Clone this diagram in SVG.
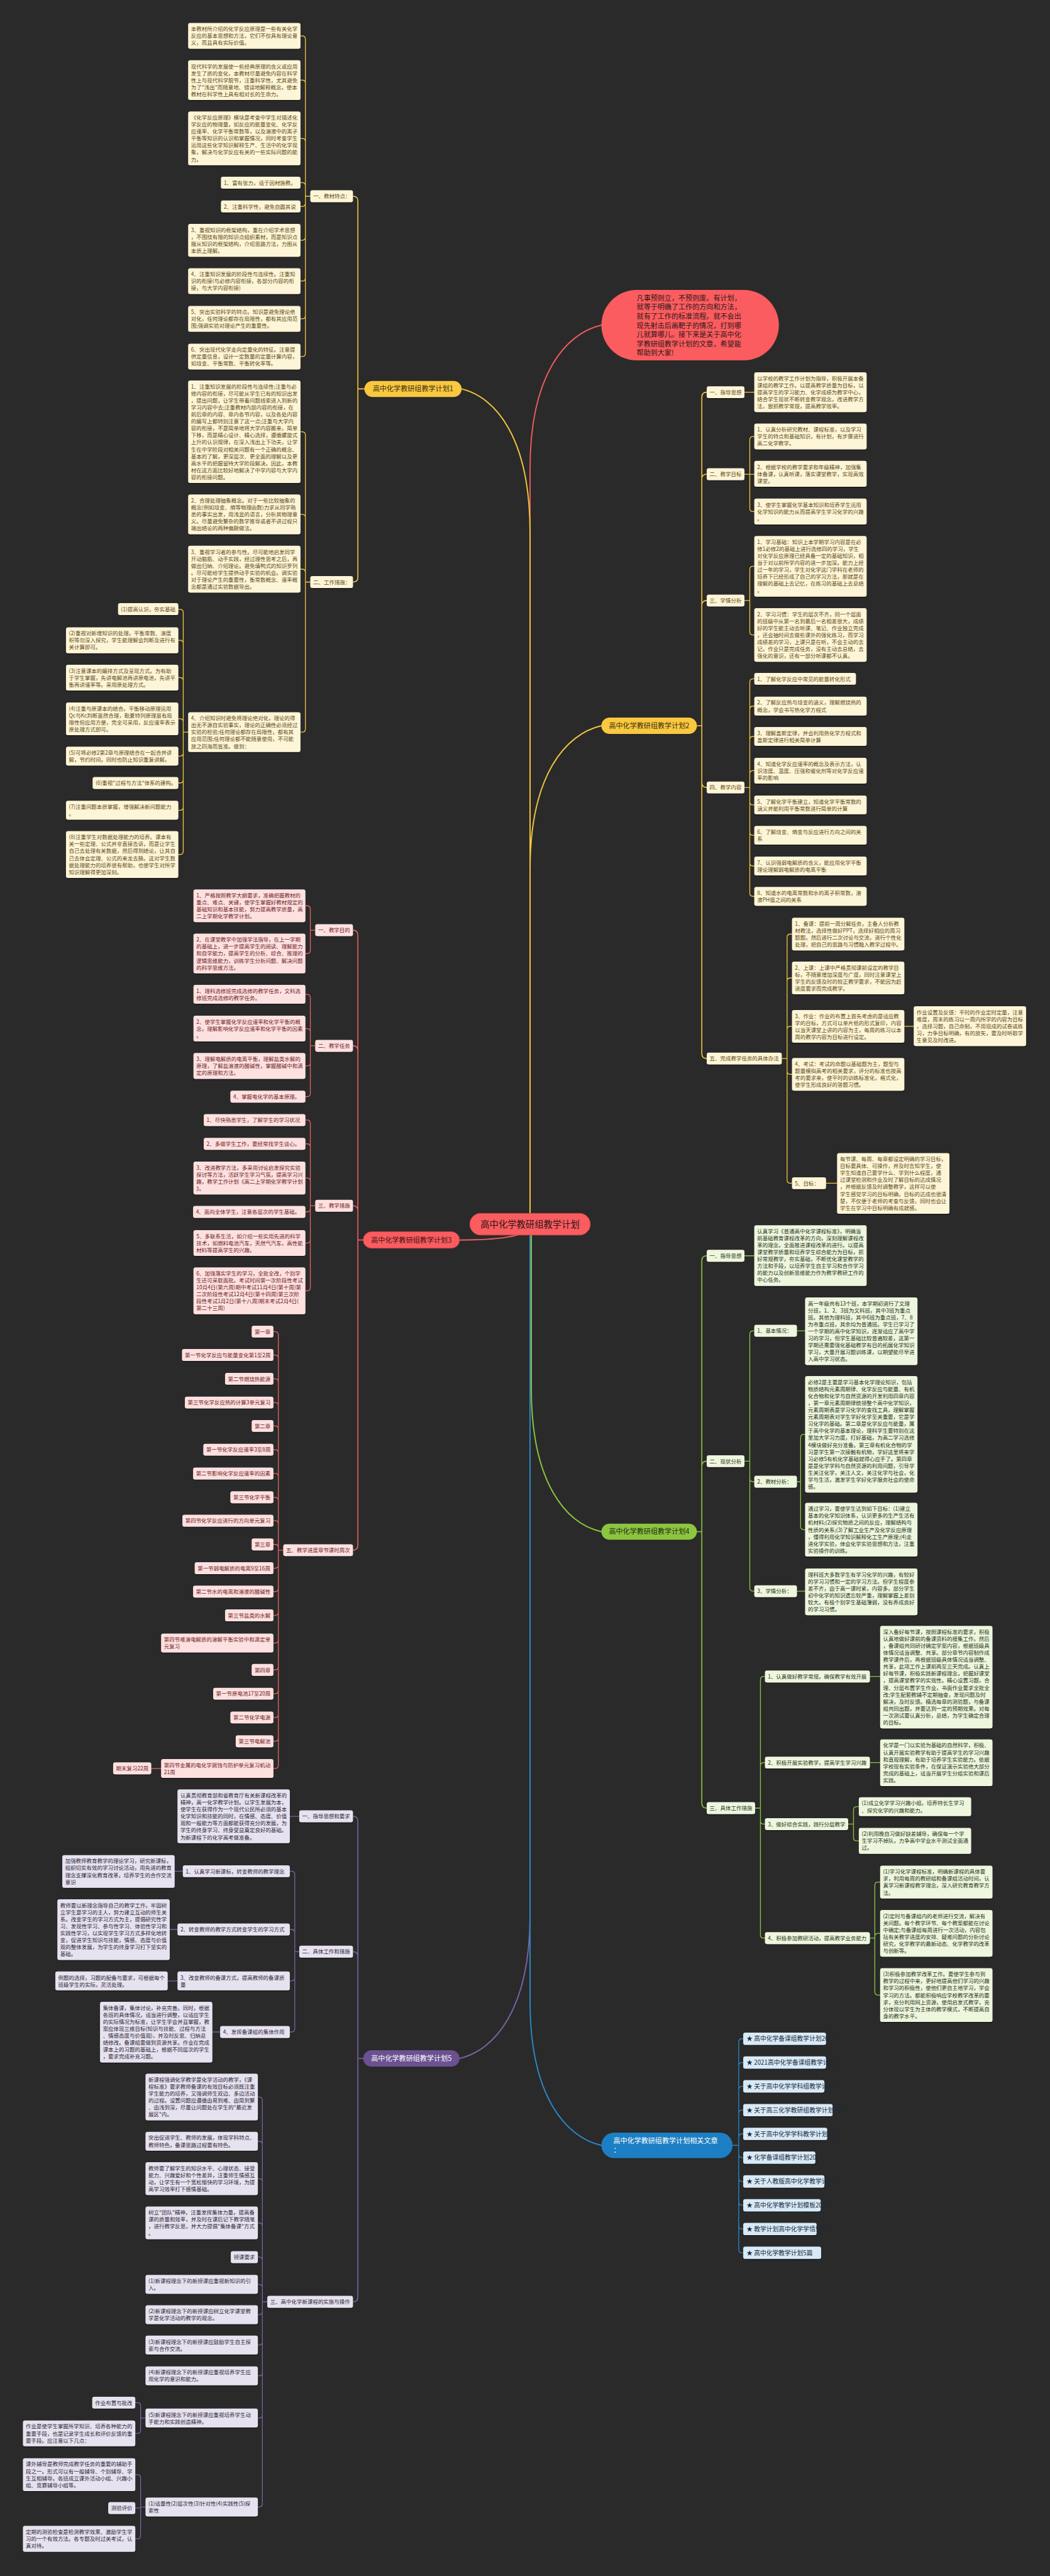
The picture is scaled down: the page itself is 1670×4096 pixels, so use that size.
<svg xmlns="http://www.w3.org/2000/svg" width="1670" height="4096" viewBox="0 0 1670 4096">
<defs>
<filter id="sh" x="-5%" y="-10%" width="110%" height="130%"><feDropShadow dx="0" dy="2" stdDeviation="1.2" flood-color="#000" flood-opacity="0.5"/></filter>
</defs>
<style>
text{font-family:"Noto Sans CJK SC","Noto Sans CJK JP","Noto Sans",sans-serif;font-size:13px}
.ly rect{fill:#fdf5d7}.ly text{fill:#5e4a16}
.lr rect{fill:#fde1e1}.lr text{fill:#6e1b1b}
.lg rect{fill:#eef6de}.lg text{fill:#26331a}
.lp rect{fill:#e7e2ef}.lp text{fill:#2c2636}
.lb rect{fill:#d8eaf7}.lb text{fill:#1c2b3b;font-size:15px}
.bx rect{filter:url(#sh)}
.nt{font-size:17px}
.cn path{fill:none;stroke-linecap:round;stroke-linejoin:round}
.cy path{stroke:#f2c53d;stroke-width:2}
.cr path{stroke:#e9625f;stroke-width:2}
.cg path{stroke:#8cc63f;stroke-width:2}
.cp path{stroke:#7b62a3;stroke-width:2}
.cb path{stroke:#2b87c8;stroke-width:2}
.l1{stroke-width:2.5 !important}
</style>
<rect x="0" y="0" width="1670" height="4096" fill="#2a2a2a"/>
<g transform="scale(0.652)">
<g id="connectors" class="cn">
<path d="M1293,2959V1143C1293,913 1380,813 1467,793" stroke="#ef5a5c" stroke-width="3"/>
<g class="cy">
<path style="stroke-width:3" d="M1293,2959V1298.5C1293,1068.5 1209.5,968.5 1126,948.5M1293,2959V2120C1293,1890 1380,1790 1467,1770"/>
<path class="l1" d="M889,948.5H873M873,948.5V490.5Q873,478.5 861,478.5M873,948.5V1407.5Q873,1419.5 861,1419.5"/>
<path d="M757,478.5H745M745,478.5V95.5Q745,87.5 737,87.5H733M745,478.5V203.5Q745,195.5 737,195.5H733M745,478.5V345.5Q745,337.5 737,337.5H733M745,478.5V453.5Q745,445.5 737,445.5H733M745,478.5V495.5Q745,503.5 737,503.5H733M745,478.5V578Q745,586 737,586H733M745,478.5V677.5Q745,685.5 737,685.5H733M745,478.5V769.5Q745,777.5 737,777.5H733M745,478.5V861.5Q745,869.5 737,869.5H733"/>
<path d="M757,1419.5H745M745,1419.5V1061Q745,1053 737,1053H733M745,1419.5V1262.5Q745,1254.5 737,1254.5H733M745,1419.5V1396Q745,1388 737,1388H733M745,1419.5V1777.5Q745,1785.5 737,1785.5H733"/>
<path d="M459,1785.5H447M447,1785.5V1494Q447,1486 439,1486H435M447,1785.5V1569.5Q447,1561.5 439,1561.5H435M447,1785.5V1660.5Q447,1652.5 439,1652.5H435M447,1785.5V1761Q447,1753 439,1753H435M447,1785.5V1836Q447,1844 439,1844H435M447,1785.5V1901.5Q447,1909.5 439,1909.5H435M447,1785.5V1968Q447,1976 439,1976H435M447,1785.5V2076Q447,2084 439,2084H435"/>
<path class="l1" d="M1700,1770H1712M1712,1770V968.5Q1712,956.5 1724,956.5M1712,1770V1168.5Q1712,1156.5 1724,1156.5M1712,1770V1476.5Q1712,1464.5 1724,1464.5M1712,1770V1908.5Q1712,1920.5 1724,1920.5M1712,1770V2569.5Q1712,2581.5 1724,2581.5"/>
<path d="M1816,956.5H1840M1816,1156.5H1840M1829,1156.5V1072.5Q1829,1064.5 1837,1064.5H1840M1829,1156.5V1239.5Q1829,1247.5 1837,1247.5H1840M1816,1464.5H1829M1829,1464.5V1389Q1829,1381 1837,1381H1840M1829,1464.5V1540.5Q1829,1548.5 1837,1548.5H1840"/>
<path d="M1816,1920.5H1829M1829,1920.5V1663.5Q1829,1655.5 1837,1655.5H1840M1829,1920.5V1730Q1829,1722 1837,1722H1840M1829,1920.5V1804Q1829,1796 1837,1796H1840M1829,1920.5V1887.5Q1829,1879.5 1837,1879.5H1840M1829,1920.5V1955Q1829,1963 1837,1963H1840M1829,1920.5V2029Q1829,2037 1837,2037H1840M1829,1920.5V2104Q1829,2112 1837,2112H1840M1829,1920.5V2178Q1829,2186 1837,2186H1840"/>
<path d="M1907,2581.5H1920M1920,2581.5V2286Q1920,2278 1928,2278H1932M1920,2581.5V2393Q1920,2385 1928,2385H1932M1920,2581.5V2511Q1920,2503 1928,2503H1932M1920,2581.5V2612Q1920,2620 1928,2620H1932M1920,2581.5V2877.5Q1920,2885.5 1928,2885.5H1932M2206,2503H2229M2015,2885.5H2042"/>
</g>
<g class="cr">
<path style="stroke-width:3" d="M1265,3011C1230,3022 1180,3024 1121,3024"/>
<path class="l1" d="M886,3024H873M873,3024V2280.5Q873,2268.5 861,2268.5M873,3024V2562.5Q873,2550.5 861,2550.5M873,3024V2952.5Q873,2940.5 861,2940.5M873,3024V3768.5Q873,3780.5 861,3780.5"/>
<path d="M769,2268.5H757M757,2268.5V2217Q757,2209 749,2209H745M757,2268.5V2317.5Q757,2325.5 749,2325.5H745M769,2550.5H757M757,2550.5V2433Q757,2425 749,2425H745M757,2550.5V2516.5Q757,2508.5 749,2508.5H745M757,2550.5V2591.5Q757,2599.5 749,2599.5H745M757,2550.5V2666.5Q757,2674.5 749,2674.5H745"/>
<path d="M769,2940.5H757M757,2940.5V2739.5Q757,2731.5 749,2731.5H745M757,2940.5V2797.5Q757,2789.5 749,2789.5H745M757,2940.5V2881Q757,2873 749,2873H745M757,2940.5V2947.5Q757,2955.5 749,2955.5H745M757,2940.5V3023.5Q757,3031.5 749,3031.5H745M757,2940.5V3140Q757,3148 749,3148H745"/>
<path d="M691,3780.5H679M679,3780.5V3255.5Q679,3247.5 671,3247.5H667M679,3780.5V3312.5Q679,3304.5 671,3304.5H667M679,3780.5V3370.5Q679,3362.5 671,3362.5H667M679,3780.5V3428.5Q679,3420.5 671,3420.5H667M679,3780.5V3485.5Q679,3477.5 671,3477.5H667M679,3780.5V3543.5Q679,3535.5 671,3535.5H667M679,3780.5V3601.5Q679,3593.5 671,3593.5H667M679,3780.5V3659.5Q679,3651.5 671,3651.5H667M679,3780.5V3716.5Q679,3708.5 671,3708.5H667M679,3780.5V3774.5Q679,3766.5 671,3766.5H667M679,3780.5V3816.5Q679,3824.5 671,3824.5H667M679,3780.5V3873.5Q679,3881.5 671,3881.5H667M679,3780.5V3931.5Q679,3939.5 671,3939.5H667M679,3780.5V3999Q679,4007 671,4007H667M679,3780.5V4064.5Q679,4072.5 671,4072.5H667M679,3780.5V4122.5Q679,4130.5 671,4130.5H667M679,3780.5V4180.5Q679,4188.5 671,4188.5H667M679,3780.5V4238.5Q679,4246.5 671,4246.5H667M679,3780.5V4305Q679,4313 671,4313H667M393,4313H369"/>
</g>
<g class="cp">
<path style="stroke-width:3" d="M1293,3012V4670C1293,4900 1207,5000 1121,5020"/>
<path class="l1" d="M886,5020H873M873,5020V4441.5Q873,4429.5 861,4429.5M873,5020V4771.5Q873,4759.5 861,4759.5M873,5020V5601.5Q873,5613.5 861,5613.5"/>
<path d="M730,4429.5H707M730,4759.5H719M719,4759.5V4571.5Q719,4563.5 711,4563.5H707M719,4759.5V4713.5Q719,4705.5 711,4705.5H707M719,4759.5V4823Q719,4831 711,4831H707M719,4759.5V4947.5Q719,4955.5 711,4955.5H707M446,4563.5H426M433,4705.5H414M433,4831H409M537,4955.5H518"/>
<path d="M652,5613.5H640M640,5613.5V5122Q640,5114 632,5114H629M640,5613.5V5230Q640,5222 632,5222H629M640,5613.5V5321Q640,5313 632,5313H629M640,5613.5V5429Q640,5421 632,5421H629M640,5613.5V5512.5Q640,5504.5 632,5504.5H629M640,5613.5V5579Q640,5571 632,5571H629M640,5613.5V5637Q640,5645 632,5645H629M640,5613.5V5711Q640,5719 632,5719H629M640,5613.5V5786Q640,5794 632,5794H629M640,5613.5V5889Q640,5897 632,5897H629M640,5613.5V6106Q640,6114 632,6114H629"/>
<path d="M355,5897H343M343,5897V5867.5Q343,5859.5 335,5859.5H330M343,5897V5926.5Q343,5934.5 335,5934.5H330M355,6114H343M343,6114V6043Q343,6035 335,6035H330M343,6114V6116.5H330M343,6114V6183.5Q343,6191.5 335,6191.5H330"/>
</g>
<g class="cb">
<path style="stroke-width:3" d="M1293,3012V4882C1293,5112 1380,5212 1467,5232"/>
<path d="M1787,5232H1802M1802,5232V4980Q1802,4972 1810,4972H1813M1802,5232V5038Q1802,5030 1810,5030H1813M1802,5232V5096Q1802,5088 1810,5088H1813M1802,5232V5154Q1802,5146 1810,5146H1813M1802,5232V5212Q1802,5204 1810,5204H1813M1802,5232V5254Q1802,5262 1810,5262H1813M1802,5232V5312Q1802,5320 1810,5320H1813M1802,5232V5370Q1802,5378 1810,5378H1813M1802,5232V5428Q1802,5436 1810,5436H1813M1802,5232V5486Q1802,5494 1810,5494H1813"/>
</g>
<g class="cg">
<path style="stroke-width:3" d="M1296,3012V3385.5C1296,3615.5 1380,3715.5 1467,3735.5"/>
<path class="l1" d="M1700,3735.5H1712M1712,3735.5V3074.5Q1712,3062.5 1724,3062.5M1712,3735.5V3575.5Q1712,3563.5 1724,3563.5M1712,3735.5V4397.5Q1712,4409.5 1724,4409.5"/>
<path d="M1816,3062.5H1840M1816,3563.5H1829M1829,3563.5V3253.5Q1829,3245.5 1837,3245.5H1840M1829,3563.5V3605.5Q1829,3613.5 1837,3613.5H1840M1829,3563.5V3872.5Q1829,3880.5 1837,3880.5H1840M1944,3245.5H1964M1944,3613.5H1953M1953,3613.5V3506Q1953,3498 1961,3498H1964M1953,3613.5V3722.5Q1953,3730.5 1961,3730.5H1964M1944,3880.5H1964"/>
<path d="M1842,4409.5H1855M1855,4409.5V4096.5Q1855,4088.5 1863,4088.5H1866M1855,4409.5V4306.5Q1855,4298.5 1863,4298.5H1866M1855,4409.5V4440.5Q1855,4448.5 1863,4448.5H1866M1855,4409.5V4718.5Q1855,4726.5 1863,4726.5H1866M2122,4088.5H2147M2122,4298.5H2147"/>
<path d="M2069,4448.5H2082M2082,4448.5V4414Q2082,4406 2090,4406H2095M2082,4448.5V4481.5Q2082,4489.5 2090,4489.5H2095M2122,4726.5H2134M2134,4726.5V4598Q2134,4590 2142,4590H2147M2134,4726.5V4723Q2134,4715 2142,4715H2147M2134,4726.5V4857.5Q2134,4865.5 2142,4865.5H2147"/>
</g>
</g>

<g id="center"><rect x="1146" y="2959" width="294" height="53" rx="26.5" fill="#fb5c5f" stroke="#c9484b" stroke-width="1.5"/><text x="1293" y="2993.5" text-anchor="middle" style="font-size:22px" fill="#2a1616">高中化学教研组教学计划</text></g>

<g id="intro"><rect x="1467" y="707" width="433" height="172" rx="86" fill="#fb5c5f"/><text x="1553" y="733" class="nt" fill="#2e1818">凡事预则立，不预则废。有计划，<tspan x="1553" dy="22.3">就等于明确了工作的方向和方法，</tspan><tspan x="1553" dy="22.3">就有了工作的标准流程。就不会出</tspan><tspan x="1553" dy="22.3">现先射击后画靶子的情况，打到哪</tspan><tspan x="1553" dy="22.3">儿就算哪儿。接下来是关于高中化</tspan><tspan x="1553" dy="22.3">学教研组教学计划的文章，希望能</tspan><tspan x="1553" dy="22.3">帮助到大家!</tspan></text></g>

<!-- PLAN 1 -->
<g id="plan1"><rect x="889" y="929" width="237" height="39" rx="19.5" fill="#f9c83f"/><text x="1007.5" y="954.5" class="nt" text-anchor="middle" fill="#3a2f10">高中化学教研组教学计划1</text></g>
<g id="p1-1" class="ly bx"><rect x="757" y="464" width="104" height="29" rx="5"/><text x="764" y="483.5">一、教材特点：</text></g>
<g id="p1-2" class="ly bx"><rect x="757" y="1405" width="104" height="29" rx="5"/><text x="764" y="1424.5">二、工作措施：</text></g>
<g id="p1-1a" class="ly bx"><rect x="459" y="56" width="274" height="63" rx="5"/><text x="466" y="75.5">本教材所介绍的化学反应原理是一些有关化学<tspan x="466" dy="17">反应的基本思想和方法，它们不仅具有理论意</tspan><tspan x="466" dy="17">义，而且具有实际价值。</tspan></text></g>
<g id="p1-1b" class="ly bx"><rect x="459" y="147" width="274" height="97" rx="5"/><text x="466" y="166.5">现代科学的发展使一些经典原理的含义或应用<tspan x="466" dy="17">发生了质的变化，本教材尽量避免内容在科学</tspan><tspan x="466" dy="17">性上与现代科学脱节，注重科学性，尤其避免</tspan><tspan x="466" dy="17">为了"浅出"而随意地、错误地解释概念，使本</tspan><tspan x="466" dy="17">教材在科学性上具有相对长的生命力。</tspan></text></g>
<g id="p1-1c" class="ly bx"><rect x="459" y="272" width="274" height="131" rx="5"/><text x="466" y="291.5">《化学反应原理》模块是考查中学生对描述化<tspan x="466" dy="17">学反应的物理量，如反应的能量变化、化学反</tspan><tspan x="466" dy="17">应速率、化学平衡常数等，以及溶液中的离子</tspan><tspan x="466" dy="17">平衡等知识的认识和掌握情况，同时考查学生</tspan><tspan x="466" dy="17">运用这些化学知识解释生产、生活中的化学现</tspan><tspan x="466" dy="17">象，解决与化学反应有关的一些实际问题的能</tspan><tspan x="466" dy="17">力。</tspan></text></g>
<g id="p1-1d" class="ly bx"><rect x="539" y="431" width="194" height="29" rx="5"/><text x="546" y="450.5">1、富有张力，适于因材施教。</text></g>
<g id="p1-1e" class="ly bx"><rect x="539" y="489" width="194" height="29" rx="5"/><text x="546" y="508.5">2、注重科学性，避免自圆其说</text></g>
<g id="p1-1f" class="ly bx"><rect x="459" y="546" width="274" height="80" rx="5"/><text x="466" y="565.5">3、重视知识的框架结构，重在介绍学术思想<tspan x="466" dy="17">，不围绕有限的知识点组织素材，而是知识点</tspan><tspan x="466" dy="17">服从知识的框架结构，介绍思路方法，力图从</tspan><tspan x="466" dy="17">本质上理解。</tspan></text></g>
<g id="p1-1g" class="ly bx"><rect x="459" y="654" width="274" height="63" rx="5"/><text x="466" y="673.5">4、注重知识发展的阶段性与连续性。注重知<tspan x="466" dy="17">识的衔接(与必修内容衔接，各部分内容的衔</tspan><tspan x="466" dy="17">接，与大学内容衔接)</tspan></text></g>
<g id="p1-1h" class="ly bx"><rect x="459" y="746" width="274" height="63" rx="5"/><text x="466" y="765.5">5、突出实验科学的特点。知识是避免理论绝<tspan x="466" dy="17">对化，任何理论都存在局限性，都有其应用范</tspan><tspan x="466" dy="17">围;强调实验对理论产生的重要性。</tspan></text></g>
<g id="p1-1i" class="ly bx"><rect x="459" y="838" width="274" height="63" rx="5"/><text x="466" y="857.5">6、突出现代化学走向定量化的特征。注意提<tspan x="466" dy="17">供定量信息，设计一定数量的定量计算内容，</tspan><tspan x="466" dy="17">如焓变、平衡常数、平衡转化率等。</tspan></text></g>
<g id="p1-2a" class="ly bx"><rect x="459" y="928" width="274" height="250" rx="5"/><text x="466" y="947.5">1、注重知识发展的阶段性与连续性;注重与必<tspan x="466" dy="17">修内容的衔接，尽可能从学生已有的知识出发</tspan><tspan x="466" dy="17">，提出问题，让学生带着问题线索进入到新的</tspan><tspan x="466" dy="17">学习内容中去;注重教材内部内容的衔接，在</tspan><tspan x="466" dy="17">前后章的内容、章内各节内容，以及各处内容</tspan><tspan x="466" dy="17">的编写上都特别注意了这一点;注重与大学内</tspan><tspan x="466" dy="17">容的衔接，不是简单地将大学内容搬来，简单</tspan><tspan x="466" dy="17">下移，而是精心设计、精心选择，遵循螺旋式</tspan><tspan x="466" dy="17">上升的认识规律，在深入浅出上下功夫，让学</tspan><tspan x="466" dy="17">生在中学阶段对相关问题有一个正确的概念、</tspan><tspan x="466" dy="17">基本的了解，更深层次、更全面的理解以及更</tspan><tspan x="466" dy="17">高水平的把握留待大学阶段解决。因此，本教</tspan><tspan x="466" dy="17">材在这方面比较好地解决了中学内容与大学内</tspan><tspan x="466" dy="17">容的衔接问题。</tspan></text></g>
<g id="p1-2b" class="ly bx"><rect x="459" y="1206" width="274" height="97" rx="5"/><text x="466" y="1225.5">2、合理处理抽象概念。对于一些比较抽象的<tspan x="466" dy="17">概念(例如焓变、熵等物理函数)力求从同学熟</tspan><tspan x="466" dy="17">悉的事实出发，用浅显的语言，分析其物理意</tspan><tspan x="466" dy="17">义。尽量避免繁杂的数学推导或者不讲过程只</tspan><tspan x="466" dy="17">端出结论的两种偏颇做法。</tspan></text></g>
<g id="p1-2c" class="ly bx"><rect x="459" y="1331" width="274" height="114" rx="5"/><text x="466" y="1350.5">3、重视学习者的参与性。尽可能地启发同学<tspan x="466" dy="17">开动脑筋、动手实践，经过理性思考之后，再</tspan><tspan x="466" dy="17">做出归纳、介绍理论。避免填鸭式的知识罗列</tspan><tspan x="466" dy="17">。尽可能给学生提供动手实验的机会。调实验</tspan><tspan x="466" dy="17">对于理论产生的重要性，衡常数概念、速率概</tspan><tspan x="466" dy="17">念都是通过实验数据导出。</tspan></text></g>
<g id="p1-2d" class="ly bx"><rect x="459" y="1737" width="274" height="97" rx="5"/><text x="466" y="1756.5">4、介绍知识时避免将理论绝对化，理论的得<tspan x="466" dy="17">出无不源自实验事实，理论的正确性必须经过</tspan><tspan x="466" dy="17">实验的检验;任何理论都存在局限性，都有其</tspan><tspan x="466" dy="17">应用范围;任何理论都不能随意使用，不可能</tspan><tspan x="466" dy="17">放之四海而皆准。做到：</tspan></text></g>
<g id="p1-2d1" class="ly bx"><rect x="288" y="1471" width="147" height="29" rx="5"/><text x="295" y="1490.5">(1)提高认识，夯实基础</text></g>
<g id="p1-2d2" class="ly bx"><rect x="161" y="1530" width="274" height="63" rx="5"/><text x="168" y="1549.5">(2)重视对新增知识的处理。平衡常数、溶度<tspan x="168" dy="17">积等勿深入探究，学生能理解会判断及进行有</tspan><tspan x="168" dy="17">关计算即可。</tspan></text></g>
<g id="p1-2d3" class="ly bx"><rect x="161" y="1621" width="274" height="63" rx="5"/><text x="168" y="1640.5">(3)注意课本的编排方式及呈现方式。为有助<tspan x="168" dy="17">于学生掌握，先讲电解池再讲原电池，先讲平</tspan><tspan x="168" dy="17">衡再讲速率等。采用原处理方式。</tspan></text></g>
<g id="p1-2d4" class="ly bx"><rect x="161" y="1713" width="274" height="80" rx="5"/><text x="168" y="1732.5">(4)注重与原课本的结合。平衡移动原理运用<tspan x="168" dy="17">Qc与Kc判断虽然合理，勒夏特列原理虽有局</tspan><tspan x="168" dy="17">限性但应用方便，完全可采用，反应速率表示</tspan><tspan x="168" dy="17">原处理方式即可。</tspan></text></g>
<g id="p1-2d5" class="ly bx"><rect x="161" y="1821" width="274" height="46" rx="5"/><text x="168" y="1840.5">(5)可将必修2第2章与原理结合在一起合并讲<tspan x="168" dy="17">解，节约时间，同时也防止知识重复讲解。</tspan></text></g>
<g id="p1-2d6" class="ly bx"><rect x="226" y="1895" width="209" height="29" rx="5"/><text x="233" y="1914.5">(6)重视"过程与方法"体系的建构。</text></g>
<g id="p1-2d7" class="ly bx"><rect x="161" y="1953" width="274" height="46" rx="5"/><text x="168" y="1972.5">(7)注重问题本质掌握，增强解决新问题能力<tspan x="168" dy="17">。</tspan></text></g>
<g id="p1-2d8" class="ly bx"><rect x="161" y="2027" width="274" height="114" rx="5"/><text x="168" y="2046.5">(8)注重学生对数据处理能力的培养。课本有<tspan x="168" dy="17">关一些定理、公式并非直接告诉，而是让学生</tspan><tspan x="168" dy="17">自己去处理有关数据，然后得到结论，让其自</tspan><tspan x="168" dy="17">己去体会定理、公式的来龙去脉。这对学生数</tspan><tspan x="168" dy="17">据处理能力的培养很有帮助，也使学生对所学</tspan><tspan x="168" dy="17">知识理解得更加深刻。</tspan></text></g>

<!-- PLAN 2 -->
<g id="plan2"><rect x="1467" y="1750" width="233" height="40" rx="20" fill="#f9c83f"/><text x="1583.5" y="1776" class="nt" text-anchor="middle" fill="#3a2f10">高中化学教研组教学计划2</text></g>
<g id="p2-1" class="ly bx"><rect x="1724" y="942" width="92" height="29" rx="5"/><text x="1731" y="961.5">一、指导思想</text></g>
<g id="p2-1a" class="ly bx"><rect x="1840" y="908" width="274" height="97" rx="5"/><text x="1847" y="927.5">以学校的教学工作计划为指导，积极开展本备<tspan x="1847" dy="17">课组的教学工作。以提高教学质量为目标，以</tspan><tspan x="1847" dy="17">提高学生的学习能力、化学成绩为教学中心，</tspan><tspan x="1847" dy="17">结合学生现状不断转变教学观念，改进教学方</tspan><tspan x="1847" dy="17">法，狠抓教学常规，提高教学效率。</tspan></text></g>
<g id="p2-2" class="ly bx"><rect x="1724" y="1142" width="92" height="29" rx="5"/><text x="1731" y="1161.5">二、教学目标</text></g>
<g id="p2-2a" class="ly bx"><rect x="1840" y="1033" width="274" height="63" rx="5"/><text x="1847" y="1052.5">1、认真分析研究教材、课程标准，以及学习<tspan x="1847" dy="17">学生的特点和基础知识，有计划，有步骤进行</tspan><tspan x="1847" dy="17">高二化学教学。</tspan></text></g>
<g id="p2-2b" class="ly bx"><rect x="1840" y="1124" width="274" height="63" rx="5"/><text x="1847" y="1143.5">2、根据学校的教学要求和年级精神，加强集<tspan x="1847" dy="17">体备课，认真听课，落实课堂教学，实现高效</tspan><tspan x="1847" dy="17">课堂。</tspan></text></g>
<g id="p2-2c" class="ly bx"><rect x="1840" y="1216" width="274" height="63" rx="5"/><text x="1847" y="1235.5">3、使学生掌握化学基本知识和培养学生运用<tspan x="1847" dy="17">化学知识的能力从而提高学生学习化学的兴趣</tspan><tspan x="1847" dy="17">。</tspan></text></g>
<g id="p2-3" class="ly bx"><rect x="1724" y="1450" width="92" height="29" rx="5"/><text x="1731" y="1469.5">三、学情分析</text></g>
<g id="p2-3a" class="ly bx"><rect x="1840" y="1307" width="274" height="148" rx="5"/><text x="1847" y="1326.5">1、学习基础：知识上本学期学习内容是在必<tspan x="1847" dy="17">修1必修2的基础上进行选修四的学习，学生</tspan><tspan x="1847" dy="17">对化学反应原理已经具备一定的基础知识，相</tspan><tspan x="1847" dy="17">当于对以前所学内容的进一步加深。能力上经</tspan><tspan x="1847" dy="17">过一年的学习，学生对化学这门学科在老师的</tspan><tspan x="1847" dy="17">培养下已经形成了自己的学习方法，那就是在</tspan><tspan x="1847" dy="17">理解的基础上去记忆，在练习的基础上去总结</tspan><tspan x="1847" dy="17">。</tspan></text></g>
<g id="p2-3b" class="ly bx"><rect x="1840" y="1483" width="274" height="131" rx="5"/><text x="1847" y="1502.5">2、学习习惯：学生的层次不齐，同一个层面<tspan x="1847" dy="17">的班级中从第一名到最后一名相差很大，成绩</tspan><tspan x="1847" dy="17">好的学生能主动去听课、笔记、作业独立完成</tspan><tspan x="1847" dy="17">，还会抽时间去做些课外的强化练习，而学习</tspan><tspan x="1847" dy="17">成绩差的学习，上课只是在听，不会主动的去</tspan><tspan x="1847" dy="17">记，作业只是完成任务，没有主动去总结，去</tspan><tspan x="1847" dy="17">强化的意识，还有一部分听课都不认真。</tspan></text></g>
<g id="p2-4" class="ly bx"><rect x="1724" y="1906" width="92" height="29" rx="5"/><text x="1731" y="1925.5">四、教学内容</text></g>
<g id="p2-4a" class="ly bx"><rect x="1840" y="1641" width="248" height="29" rx="5"/><text x="1847" y="1660.5">1、了解化学反应中常见的能量转化形式</text></g>
<g id="p2-4b" class="ly bx"><rect x="1840" y="1699" width="274" height="46" rx="5"/><text x="1847" y="1718.5">2、了解反应热与焓变的涵义，理解燃烧热的<tspan x="1847" dy="17">概念，学会书写热化学方程式</tspan></text></g>
<g id="p2-4c" class="ly bx"><rect x="1840" y="1773" width="274" height="46" rx="5"/><text x="1847" y="1792.5">3、理解盖斯定律，并会利用热化学方程式和<tspan x="1847" dy="17">盖斯定律进行相关简单计算</tspan></text></g>
<g id="p2-4d" class="ly bx"><rect x="1840" y="1848" width="274" height="63" rx="5"/><text x="1847" y="1867.5">4、知道化学反应速率的概念及表示方法，认<tspan x="1847" dy="17">识浓度、温度、压强和催化剂等对化学反应速</tspan><tspan x="1847" dy="17">率的影响</tspan></text></g>
<g id="p2-4e" class="ly bx"><rect x="1840" y="1940" width="274" height="46" rx="5"/><text x="1847" y="1959.5">5、了解化学平衡建立，知道化学平衡常数的<tspan x="1847" dy="17">涵义并能利用平衡常数进行简单的计算</tspan></text></g>
<g id="p2-4f" class="ly bx"><rect x="1840" y="2014" width="274" height="46" rx="5"/><text x="1847" y="2033.5">6、了解焓变、熵变与反应进行方向之间的关<tspan x="1847" dy="17">系</tspan></text></g>
<g id="p2-4g" class="ly bx"><rect x="1840" y="2089" width="274" height="46" rx="5"/><text x="1847" y="2108.5">7、认识强弱电解质的含义，能应用化学平衡<tspan x="1847" dy="17">理论理解弱电解质的电离平衡</tspan></text></g>
<g id="p2-4h" class="ly bx"><rect x="1840" y="2163" width="274" height="46" rx="5"/><text x="1847" y="2182.5">8、知道水的电离常数和水的离子积常数，溶<tspan x="1847" dy="17">液PH值之间的关系</tspan></text></g>
<g id="p2-5" class="ly bx"><rect x="1724" y="2567" width="183" height="29" rx="5"/><text x="1731" y="2586.5">五、完成教学任务的具体办法</text></g>
<g id="p2-5a" class="ly bx"><rect x="1932" y="2238" width="274" height="80" rx="5"/><text x="1939" y="2257.5">1、备课：提前一周分解任务，主备人分析教<tspan x="1939" dy="17">材教法，选择性做好PPT，选择好相应的周习</tspan><tspan x="1939" dy="17">题题。然后进行二次讨论与交流，进行个性化</tspan><tspan x="1939" dy="17">处理，把自己的思路与习惯融入教学过程中。</tspan></text></g>
<g id="p2-5b" class="ly bx"><rect x="1932" y="2345" width="274" height="80" rx="5"/><text x="1939" y="2364.5">2、上课：上课中严格贯彻课前设定的教学目<tspan x="1939" dy="17">标，不随意增加深度与广度，同时注意课堂上</tspan><tspan x="1939" dy="17">学生的反馈及时的较正教学要求，不能因为赶</tspan><tspan x="1939" dy="17">进度要求而完成教学。</tspan></text></g>
<g id="p2-5c" class="ly bx"><rect x="1932" y="2463" width="274" height="80" rx="5"/><text x="1939" y="2482.5">3、作业：作业的布置上首先考虑的是适应教<tspan x="1939" dy="17">学的目标，方式可以单片纸的形式复印，内容</tspan><tspan x="1939" dy="17">以当天课堂上讲的内容为主，每周的练习以本</tspan><tspan x="1939" dy="17">周的教学内容为目标进行设定。</tspan></text></g>
<g id="p2-5c1" class="ly bx"><rect x="2229" y="2454" width="274" height="97" rx="5"/><text x="2236" y="2473.5">作业设置及反馈：平时的作业定时定量，注意<tspan x="2236" dy="17">难度，周末的练习以一周内所学的内容为目标</tspan><tspan x="2236" dy="17">，选择习题，自己命制，不用现成的试卷或练</tspan><tspan x="2236" dy="17">习，力争目标明确，有的放矢，要及时听取学</tspan><tspan x="2236" dy="17">生意见及时改进。</tspan></text></g>
<g id="p2-5d" class="ly bx"><rect x="1932" y="2580" width="274" height="80" rx="5"/><text x="1939" y="2599.5">4、考试：考试的命题以基础题为主，题型与<tspan x="1939" dy="17">题量模拟高考的相关要求，评分的标准也按高</tspan><tspan x="1939" dy="17">考的要求来，使平时的训练标准化，格式化，</tspan><tspan x="1939" dy="17">使学生形成良好的答题习惯。</tspan></text></g>
<g id="p2-5e" class="ly bx"><rect x="1932" y="2871" width="83" height="29" rx="5"/><text x="1939" y="2890.5">5、目标：</text></g>
<g id="p2-5e1" class="ly bx"><rect x="2042" y="2812" width="274" height="148" rx="5"/><text x="2049" y="2831.5">每节课、每周、每章都设定明确的学习目标，<tspan x="2049" dy="17">目标要具体、可操作，并及时告知学生，使</tspan><tspan x="2049" dy="17">学生知道自己要学什么、学到什么程度，通</tspan><tspan x="2049" dy="17">过课堂检测和作业及时了解目标的达成情况</tspan><tspan x="2049" dy="17">，并根据反馈及时调整教学，这样可以使</tspan><tspan x="2049" dy="17">学生感觉学习的目标明确，目标的达成也很清</tspan><tspan x="2049" dy="17">楚，不仅便于老师的考查与反馈，同时也会让</tspan><tspan x="2049" dy="17">学生在学习中目标明确有成就感。</tspan></text></g>

<!-- PLAN 3 -->
<g id="plan3"><rect x="886" y="3004" width="235" height="40" rx="20" fill="#fb5c5f" stroke="#c9484b" stroke-width="1.5"/><text x="1003.5" y="3030" class="nt" text-anchor="middle" fill="#3a1212">高中化学教研组教学计划3</text></g>
<g id="p3-1" class="lr bx"><rect x="769" y="2254" width="92" height="29" rx="5"/><text x="776" y="2273.5">一、教学目的</text></g>
<g id="p3-1a" class="lr bx"><rect x="472" y="2169" width="273" height="80" rx="5"/><text x="479" y="2188.5">1、严格按照教学大纲要求，准确把握教材的<tspan x="479" dy="17">重点、难点、关键，使学生掌握好教材规定的</tspan><tspan x="479" dy="17">基础知识和基本技能，努力提高教学质量，高</tspan><tspan x="479" dy="17">二上学期化学教学计划。</tspan></text></g>
<g id="p3-1b" class="lr bx"><rect x="472" y="2277" width="273" height="97" rx="5"/><text x="479" y="2296.5">2、在课堂教学中加强学法指导，在上一学期<tspan x="479" dy="17">的基础上，进一步提高学生的阅读、理解能力</tspan><tspan x="479" dy="17">和自学能力，提高学生的分析、综合、推理的</tspan><tspan x="479" dy="17">逻辑思维能力，训练学生分析问题、解决问题</tspan><tspan x="479" dy="17">的科学思维方法。</tspan></text></g>
<g id="p3-2" class="lr bx"><rect x="769" y="2536" width="92" height="29" rx="5"/><text x="776" y="2555.5">二、教学任务</text></g>
<g id="p3-2a" class="lr bx"><rect x="472" y="2402" width="273" height="46" rx="5"/><text x="479" y="2421.5">1、理科选修班完成选修的教学任务，文科选<tspan x="479" dy="17">修班完成选修的教学任务。</tspan></text></g>
<g id="p3-2b" class="lr bx"><rect x="472" y="2477" width="273" height="63" rx="5"/><text x="479" y="2496.5">2、使学生掌握化学反应速率和化学平衡的概<tspan x="479" dy="17">念，理解影响化学反应速率和化学平衡的因素</tspan><tspan x="479" dy="17">。</tspan></text></g>
<g id="p3-2c" class="lr bx"><rect x="472" y="2568" width="273" height="63" rx="5"/><text x="479" y="2587.5">3、理解电解质的电离平衡，理解盐类水解的<tspan x="479" dy="17">原理，了解盐溶液的酸碱性，掌握酸碱中和滴</tspan><tspan x="479" dy="17">定的原理和方法。</tspan></text></g>
<g id="p3-2d" class="lr bx"><rect x="562" y="2660" width="183" height="29" rx="5"/><text x="569" y="2679.5">4、掌握电化学的基本原理。</text></g>
<g id="p3-3" class="lr bx"><rect x="769" y="2926" width="92" height="29" rx="5"/><text x="776" y="2945.5">三、教学措施</text></g>
<g id="p3-3a" class="lr bx"><rect x="497" y="2717" width="248" height="29" rx="5"/><text x="504" y="2736.5">1、尽快熟悉学生，了解学生的学习状况</text></g>
<g id="p3-3b" class="lr bx"><rect x="497" y="2775" width="248" height="29" rx="5"/><text x="504" y="2794.5">2、多做学生工作，要经常找学生谈心。</text></g>
<g id="p3-3c" class="lr bx"><rect x="472" y="2833" width="273" height="80" rx="5"/><text x="479" y="2852.5">3、改进教学方法，多采用讨论启发探究实验<tspan x="479" dy="17">探讨等方法，活跃学生学习气氛，提高学习兴</tspan><tspan x="479" dy="17">趣，教学工作计划《高二上学期化学教学计划</tspan><tspan x="479" dy="17">》。</tspan></text></g>
<g id="p3-3d" class="lr bx"><rect x="471" y="2941" width="274" height="29" rx="5"/><text x="478" y="2960.5">4、面向全体学生，注意各层次的学生基础。</text></g>
<g id="p3-3e" class="lr bx"><rect x="472" y="3000" width="273" height="63" rx="5"/><text x="479" y="3019.5">5、多联系生活，如介绍一些实用先进的科学<tspan x="479" dy="17">技术，如燃料电池汽车，天然气汽车，高性能</tspan><tspan x="479" dy="17">材料等提高学生的兴趣。</tspan></text></g>
<g id="p3-3f" class="lr bx"><rect x="472" y="3091" width="273" height="114" rx="5"/><text x="479" y="3110.5">6、加强落实学生的学习，全批全改，个别学<tspan x="479" dy="17">生还可采取面批。考试时间第一次阶段性考试</tspan><tspan x="479" dy="17">10月4日(第六周)期中考试11月4日(第十周)第</tspan><tspan x="479" dy="17">二次阶段性考试12月4日(第十四周)第三次阶</tspan><tspan x="479" dy="17">段性考试1月2日(第十八周)期末考试2月4日(</tspan><tspan x="479" dy="17">第二十三周)</tspan></text></g>
<g id="p3-5" class="lr bx"><rect x="691" y="3766" width="170" height="29" rx="5"/><text x="698" y="3785.5">五、教学进度章节课时周次</text></g>
<g id="p3-5a" class="lr bx"><rect x="614" y="3233" width="53" height="29" rx="5"/><text x="621" y="3252.5">第一章</text></g>
<g id="p3-5b" class="lr bx"><rect x="444" y="3290" width="223" height="29" rx="5"/><text x="451" y="3309.5">第一节化学反应与能量变化第1至2周</text></g>
<g id="p3-5c" class="lr bx"><rect x="549" y="3348" width="118" height="29" rx="5"/><text x="556" y="3367.5">第二节燃烧热能源</text></g>
<g id="p3-5d" class="lr bx"><rect x="451" y="3406" width="216" height="29" rx="5"/><text x="458" y="3425.5">第三节化学反应热的计算3单元复习</text></g>
<g id="p3-5e" class="lr bx"><rect x="614" y="3463" width="53" height="29" rx="5"/><text x="621" y="3482.5">第二章</text></g>
<g id="p3-5f" class="lr bx"><rect x="496" y="3521" width="171" height="29" rx="5"/><text x="503" y="3540.5">第一节化学反应速率3至8周</text></g>
<g id="p3-5g" class="lr bx"><rect x="471" y="3579" width="196" height="29" rx="5"/><text x="478" y="3598.5">第二节影响化学反应速率的因素</text></g>
<g id="p3-5h" class="lr bx"><rect x="562" y="3637" width="105" height="29" rx="5"/><text x="569" y="3656.5">第三节化学平衡</text></g>
<g id="p3-5i" class="lr bx"><rect x="445" y="3694" width="222" height="29" rx="5"/><text x="452" y="3713.5">第四节化学反应进行的方向单元复习</text></g>
<g id="p3-5j" class="lr bx"><rect x="614" y="3752" width="53" height="29" rx="5"/><text x="621" y="3771.5">第三章</text></g>
<g id="p3-5k" class="lr bx"><rect x="475" y="3810" width="192" height="29" rx="5"/><text x="482" y="3829.5">第一节弱电解质的电离9至16周</text></g>
<g id="p3-5l" class="lr bx"><rect x="471" y="3867" width="196" height="29" rx="5"/><text x="478" y="3886.5">第二节水的电离和溶液的酸碱性</text></g>
<g id="p3-5m" class="lr bx"><rect x="549" y="3925" width="118" height="29" rx="5"/><text x="556" y="3944.5">第三节盐类的水解</text></g>
<g id="p3-5n" class="lr bx"><rect x="393" y="3984" width="274" height="46" rx="5"/><text x="400" y="4003.5">第四节难溶电解质的溶解平衡实验中和滴定单<tspan x="400" dy="17">元复习</tspan></text></g>
<g id="p3-5o" class="lr bx"><rect x="614" y="4058" width="53" height="29" rx="5"/><text x="621" y="4077.5">第四章</text></g>
<g id="p3-5p" class="lr bx"><rect x="520" y="4116" width="147" height="29" rx="5"/><text x="527" y="4135.5">第一节原电池17至20周</text></g>
<g id="p3-5q" class="lr bx"><rect x="562" y="4174" width="105" height="29" rx="5"/><text x="569" y="4193.5">第二节化学电源</text></g>
<g id="p3-5r" class="lr bx"><rect x="575" y="4232" width="92" height="29" rx="5"/><text x="582" y="4251.5">第三节电解池</text></g>
<g id="p3-5s" class="lr bx"><rect x="393" y="4290" width="274" height="46" rx="5"/><text x="400" y="4309.5">第四节金属的电化学腐蚀与防护单元复习机动<tspan x="400" dy="17">21周</tspan></text></g>
<g id="p3-5s1" class="lr bx"><rect x="276" y="4298" width="93" height="29" rx="5"/><text x="283" y="4317.5">期末复习22周</text></g>

<!-- PLAN 4 -->
<g id="plan4"><rect x="1467" y="3716" width="233" height="39" rx="19.5" fill="#8cc540"/><text x="1583.5" y="3741.5" class="nt" text-anchor="middle" fill="#1f2a10">高中化学教研组教学计划4</text></g>
<g id="p4-1" class="lg bx"><rect x="1724" y="3048" width="92" height="29" rx="5"/><text x="1731" y="3067.5">一、指导思想</text></g>
<g id="p4-1a" class="lg bx"><rect x="1840" y="2988" width="274" height="148" rx="5"/><text x="1847" y="3007.5">认真学习《普通高中化学课程标准》，明确当<tspan x="1847" dy="17">前基础教育课程改革的方向，深刻理解课程改</tspan><tspan x="1847" dy="17">革的理念，全面推进课程改革的进行。以提高</tspan><tspan x="1847" dy="17">课堂教学质量和培养学生综合能力为目标，抓</tspan><tspan x="1847" dy="17">好常规教学，夯实基础，不断优化课堂教学的</tspan><tspan x="1847" dy="17">方法和手段，以培养学生自主学习和合作学习</tspan><tspan x="1847" dy="17">的能力以及创新思维能力作为教学教研工作的</tspan><tspan x="1847" dy="17">中心任务。</tspan></text></g>
<g id="p4-2" class="lg bx"><rect x="1724" y="3549" width="92" height="29" rx="5"/><text x="1731" y="3568.5">二、现状分析</text></g>
<g id="p4-2a" class="lg bx"><rect x="1840" y="3231" width="104" height="29" rx="5"/><text x="1847" y="3250.5">1、基本情况：</text></g>
<g id="p4-2a1" class="lg bx"><rect x="1964" y="3164" width="274" height="165" rx="5"/><text x="1971" y="3183.5">高一年级共有13个班，本学期初进行了文理<tspan x="1971" dy="17">分班，1、2、3班为文科班，其中3班为重点</tspan><tspan x="1971" dy="17">班。其他为理科班，其中6班为重点班，7、8</tspan><tspan x="1971" dy="17">为市重点班，其余均为普通班。学生已学习了</tspan><tspan x="1971" dy="17">一个学期的高中化学知识，逐渐适应了高中学</tspan><tspan x="1971" dy="17">习的学习，但学生基础比较普遍较差，这第一</tspan><tspan x="1971" dy="17">学期还需要强化基础教学有目的拓展化学知识</tspan><tspan x="1971" dy="17">学习，大量开展习题训练课，以期望能尽早进</tspan><tspan x="1971" dy="17">入高中学习状态。</tspan></text></g>
<g id="p4-2b" class="lg bx"><rect x="1840" y="3599" width="104" height="29" rx="5"/><text x="1847" y="3618.5">2、教材分析：</text></g>
<g id="p4-2b1" class="lg bx"><rect x="1964" y="3356" width="274" height="284" rx="5"/><text x="1971" y="3375.5">必修2是主要是学习基本化学理论知识，包括<tspan x="1971" dy="17">物质结构元素周期律、化学反应与能量、有机</tspan><tspan x="1971" dy="17">化合物和化学与自然资源的开发利用四章内容</tspan><tspan x="1971" dy="17">，第一章元素周期律统领整个高中化学知识，</tspan><tspan x="1971" dy="17">元素周期表是学习化学的查找工具，理解掌握</tspan><tspan x="1971" dy="17">元素周期表对学生学好化学至关重要，它是学</tspan><tspan x="1971" dy="17">习化学的基础。第二章是化学反应与能量，属</tspan><tspan x="1971" dy="17">于高中化学的基本理论，理科学生要特别在这</tspan><tspan x="1971" dy="17">里加大学习力度，打好基础，为高二学习选修</tspan><tspan x="1971" dy="17">4模块做好充分准备。第三章有机化合物的学</tspan><tspan x="1971" dy="17">习是学生第一次接触有机物，学好这里将来学</tspan><tspan x="1971" dy="17">习必修5有机化学基础就得心应手了。第四章</tspan><tspan x="1971" dy="17">是是化学学科与自然资源的利用问题，引导学</tspan><tspan x="1971" dy="17">生关注化学，关注人文，关注化学与社会，化</tspan><tspan x="1971" dy="17">学与生活，激发学生学好化学服务社会的使命</tspan><tspan x="1971" dy="17">感。</tspan></text></g>
<g id="p4-2b2" class="lg bx"><rect x="1964" y="3665" width="274" height="131" rx="5"/><text x="1971" y="3684.5">通过学习，要使学生达到如下目标：(1)建立<tspan x="1971" dy="17">基本的化学知识体系，认识更多的生产生活有</tspan><tspan x="1971" dy="17">机材料;(2)探究物质之间的反应，理解结构与</tspan><tspan x="1971" dy="17">性质的关系;(3)了解工业生产及化学反应原理</tspan><tspan x="1971" dy="17">，懂得利用化学知识解释化工生产原理;(4)走</tspan><tspan x="1971" dy="17">进化学实验，体会化学实验思想和方法，注重</tspan><tspan x="1971" dy="17">实验操作的训练。</tspan></text></g>
<g id="p4-2c" class="lg bx"><rect x="1840" y="3866" width="104" height="29" rx="5"/><text x="1847" y="3885.5">3、学情分析：</text></g>
<g id="p4-2c1" class="lg bx"><rect x="1964" y="3825" width="274" height="114" rx="5"/><text x="1971" y="3844.5">理科班大多数学生有学习化学的兴趣，有较好<tspan x="1971" dy="17">的学习习惯和一定的学习方法。但学生程度参</tspan><tspan x="1971" dy="17">差不齐，由于高一课时紧，内容多，部分学生</tspan><tspan x="1971" dy="17">初中化学的知识遗忘较严重，理解掌握上差别</tspan><tspan x="1971" dy="17">较大。有极个别学生基础薄弱，没有养成良好</tspan><tspan x="1971" dy="17">的学习习惯。</tspan></text></g>
<g id="p4-3" class="lg bx"><rect x="1724" y="4395" width="118" height="29" rx="5"/><text x="1731" y="4414.5">三、具体工作措施</text></g>
<g id="p4-3a" class="lg bx"><rect x="1866" y="4074" width="256" height="29" rx="5"/><text x="1873" y="4093.5">1、认真做好教学常规，确保教学有效开展</text></g>
<g id="p4-3a1" class="lg bx"><rect x="2147" y="3965" width="274" height="250" rx="5"/><text x="2154" y="3984.5">深入备好每节课，按照课程标准的要求，积极<tspan x="2154" dy="17">认真地做好课前的备课资料的搜集工作。然后</tspan><tspan x="2154" dy="17">，备课组共同研讨确定学案内容，根据班级具</tspan><tspan x="2154" dy="17">体情况适当调整、共享。部分章节内容制作成</tspan><tspan x="2154" dy="17">教学课件后，再根据班级具体情况适当调整、</tspan><tspan x="2154" dy="17">共享，此项工作上课前两至三天完成。认真上</tspan><tspan x="2154" dy="17">好每节课，积极实践新课程理念，把握好课堂</tspan><tspan x="2154" dy="17">，提高课堂教学的实效性。精心设置习题，合</tspan><tspan x="2154" dy="17">理、分层布置学生作业，书面作业要求全批全</tspan><tspan x="2154" dy="17">改;学生配套教辅不定期抽查，发现问题及时</tspan><tspan x="2154" dy="17">解决，及时反馈。精选每章的测验题，与备课</tspan><tspan x="2154" dy="17">组共同出题，并要达到一定的预期效果。对每</tspan><tspan x="2154" dy="17">一次测试要认真分析，总结，为学生确定合理</tspan><tspan x="2154" dy="17">的目标。</tspan></text></g>
<g id="p4-3b" class="lg bx"><rect x="1866" y="4284" width="256" height="29" rx="5"/><text x="1873" y="4303.5">2、积极开展实验教学，提高学生学习兴趣</text></g>
<g id="p4-3b1" class="lg bx"><rect x="2147" y="4242" width="274" height="114" rx="5"/><text x="2154" y="4261.5">化学是一门以实验为基础的自然科学，积极、<tspan x="2154" dy="17">认真开展实验教学有助于提高学生的学习兴趣</tspan><tspan x="2154" dy="17">和直观理解，有助于培养学生实验能力。依据</tspan><tspan x="2154" dy="17">学校现有实验条件，在保证演示实验绝大部分</tspan><tspan x="2154" dy="17">完成的基础上，适当开展学生分组实验和课后</tspan><tspan x="2154" dy="17">实践。</tspan></text></g>
<g id="p4-3c" class="lg bx"><rect x="1866" y="4434" width="203" height="29" rx="5"/><text x="1873" y="4453.5">3、做好综合实践，践行分层教学</text></g>
<g id="p4-3c1" class="lg bx"><rect x="2095" y="4383" width="274" height="46" rx="5"/><text x="2102" y="4402.5">(1)成立化学学习兴趣小组，培养特长生学习<tspan x="2102" dy="17">、探究化学的兴趣和能力。</tspan></text></g>
<g id="p4-3c2" class="lg bx"><rect x="2095" y="4458" width="274" height="63" rx="5"/><text x="2102" y="4477.5">(2)利用晚自习做好缺差辅导，确保每一个学<tspan x="2102" dy="17">生学习不掉队，力争高中学业水平测试全面通</tspan><tspan x="2102" dy="17">过。</tspan></text></g>
<g id="p4-3d" class="lg bx"><rect x="1866" y="4712" width="256" height="29" rx="5"/><text x="1873" y="4731.5">4、积极参加教研活动，提高教学业务能力</text></g>
<g id="p4-3d1" class="lg bx"><rect x="2147" y="4550" width="274" height="80" rx="5"/><text x="2154" y="4569.5">(1)学习化学课程标准，明确新课程的具体要<tspan x="2154" dy="17">求，利用每周的教研组和备课组活动时间，认</tspan><tspan x="2154" dy="17">真学习新课程教学理念，深入研究教育教学方</tspan><tspan x="2154" dy="17">法。</tspan></text></g>
<g id="p4-3d2" class="lg bx"><rect x="2147" y="4658" width="274" height="114" rx="5"/><text x="2154" y="4677.5">(2)定时与备课组内的老师进行交流，解决有<tspan x="2154" dy="17">关问题。每个教学环节、每个教案都能在讨论</tspan><tspan x="2154" dy="17">中确定;与备课组每周进行一次活动，内容包</tspan><tspan x="2154" dy="17">括有关教学进度的安排、疑难问题的分析讨论</tspan><tspan x="2154" dy="17">研究，化学教学的最新动态、化学教学的改革</tspan><tspan x="2154" dy="17">与创新等。</tspan></text></g>
<g id="p4-3d3" class="lg bx"><rect x="2147" y="4800" width="274" height="131" rx="5"/><text x="2154" y="4819.5">(3)积极参加教学改革工作。要使学生参与到<tspan x="2154" dy="17">教学的过程中来，更好地提高他们学习的兴趣</tspan><tspan x="2154" dy="17">和学习的积极性，使他们更自主地学习，学会</tspan><tspan x="2154" dy="17">学习的方法。都能积极响应学校教学改革的要</tspan><tspan x="2154" dy="17">求，充分利用网上资源，使用启发式教学，充</tspan><tspan x="2154" dy="17">分体现以学生为主体的教学模式，不断提高自</tspan><tspan x="2154" dy="17">身的教学水平。</tspan></text></g>

<!-- PLAN 5 -->
<g id="plan5"><rect x="886" y="5000" width="235" height="40" rx="20" fill="#6b5191"/><text x="1003.5" y="5026" class="nt" text-anchor="middle" fill="#ffffff">高中化学教研组教学计划5</text></g>
<g id="p5-1" class="lp bx"><rect x="730" y="4415" width="131" height="29" rx="5"/><text x="737" y="4434.5">一、指导思想和要求</text></g>
<g id="p5-1a" class="lp bx"><rect x="433" y="4364" width="274" height="131" rx="5"/><text x="440" y="4383.5">认真贯彻教育部和省教育厅有关新课程改革的<tspan x="440" dy="17">精神，高一化学教学计划。以学生发展为本，</tspan><tspan x="440" dy="17">使学生在获得作为一个现代公民所必须的基本</tspan><tspan x="440" dy="17">化学知识和技能的同时，在情感、态度、价值</tspan><tspan x="440" dy="17">观和一般能力等方面都能获得充分的发展，为</tspan><tspan x="440" dy="17">学生的终身学习、终身受益奠定良好的基础。</tspan><tspan x="440" dy="17">为新课程下的化学高考做准备。</tspan></text></g>
<g id="p5-2" class="lp bx"><rect x="730" y="4745" width="131" height="29" rx="5"/><text x="737" y="4764.5">二、具体工作和措施</text></g>
<g id="p5-2a" class="lp bx"><rect x="446" y="4549" width="261" height="29" rx="5"/><text x="453" y="4568.5">1、认真学习新课标，转变教师的教学理念</text></g>
<g id="p5-2a1" class="lp bx"><rect x="152" y="4524" width="274" height="80" rx="5"/><text x="159" y="4543.5">加强教师教育教学的理论学习，研究新课标，<tspan x="159" dy="17">组织切实有效的学习讨论活动，用先进的教育</tspan><tspan x="159" dy="17">理念支撑深化教育改革，培养学生的合作交流</tspan><tspan x="159" dy="17">意识</tspan></text></g>
<g id="p5-2b" class="lp bx"><rect x="433" y="4691" width="274" height="29" rx="5"/><text x="440" y="4710.5">2、转变教师的教学方式转变学生的学习方式</text></g>
<g id="p5-2b1" class="lp bx"><rect x="140" y="4632" width="274" height="148" rx="5"/><text x="147" y="4651.5">教师要以新理念指导自己的教学工作，牢固树<tspan x="147" dy="17">立学生是学习的主人，努力建立互动的师生关</tspan><tspan x="147" dy="17">系。改变学生的学习方式为主，提倡研究性学</tspan><tspan x="147" dy="17">习、发现性学习、参与性学习、体验性学习和</tspan><tspan x="147" dy="17">实践性学习，以实现学生学习方式多样化地转</tspan><tspan x="147" dy="17">变，促进学生知识与技能，情感、态度与价值</tspan><tspan x="147" dy="17">观的整体发展，为学生的终身学习打下坚实的</tspan><tspan x="147" dy="17">基础。</tspan></text></g>
<g id="p5-2c" class="lp bx"><rect x="433" y="4808" width="274" height="46" rx="5"/><text x="440" y="4827.5">3、改变教师的备课方式，提高教师的备课质<tspan x="440" dy="17">量</tspan></text></g>
<g id="p5-2c1" class="lp bx"><rect x="135" y="4808" width="274" height="46" rx="5"/><text x="142" y="4827.5">例题的选择，习题的配备与要求，可根据每个<tspan x="142" dy="17">班级学生的实际，灵活处理。</tspan></text></g>
<g id="p5-2d" class="lp bx"><rect x="537" y="4941" width="170" height="29" rx="5"/><text x="544" y="4960.5">4、发挥备课组的集体作用</text></g>
<g id="p5-2d1" class="lp bx"><rect x="244" y="4882" width="274" height="148" rx="5"/><text x="251" y="4901.5">集体备课，集体讨论，补充完善。同时，根据<tspan x="251" dy="17">各班的具体情况，适当进行调整，以适应学生</tspan><tspan x="251" dy="17">的实际情况为标准，让学生学会并且掌握，教</tspan><tspan x="251" dy="17">案应体现三维目标(知识与技能、过程与方法</tspan><tspan x="251" dy="17">、情感态度与价值观)，并及时反思、归纳总</tspan><tspan x="251" dy="17">结修改。备课组要做到资源共享。作业在完成</tspan><tspan x="251" dy="17">课本上的习题的基础上，根据不同层次的学生</tspan><tspan x="251" dy="17">，要求完成补充习题。</tspan></text></g>
<g id="p5-3" class="lp bx"><rect x="652" y="5599" width="209" height="29" rx="5"/><text x="659" y="5618.5">三、高中化学新课程的实施与操作</text></g>
<g id="p5-3a" class="lp bx"><rect x="355" y="5057" width="274" height="114" rx="5"/><text x="362" y="5076.5">新课程强调化学教学是化学活动的教学，《课<tspan x="362" dy="17">程标准》要求教师备课的有效目标必须既注重</tspan><tspan x="362" dy="17">学生能力的培养，又强调师生双边、多边活动</tspan><tspan x="362" dy="17">的过程。设置问题应遵循由易到难、由简到繁</tspan><tspan x="362" dy="17">、由浅到深，尽量让问题处在学生的"最近发</tspan><tspan x="362" dy="17">展区"内。</tspan></text></g>
<g id="p5-3b" class="lp bx"><rect x="355" y="5199" width="274" height="46" rx="5"/><text x="362" y="5218.5">突出促进学生、教师的发展，体现学科特点、<tspan x="362" dy="17">教师特色，备课思路过程要有特色。</tspan></text></g>
<g id="p5-3c" class="lp bx"><rect x="355" y="5273" width="274" height="80" rx="5"/><text x="362" y="5292.5">教师要了解学生的知识水平、心理状态、接受<tspan x="362" dy="17">能力、兴趣爱好和个性差异，注重师生情感互</tspan><tspan x="362" dy="17">动，让学生有一个宽松愉快的学习环境，为提</tspan><tspan x="362" dy="17">高学习效率打下感情基础。</tspan></text></g>
<g id="p5-3d" class="lp bx"><rect x="355" y="5381" width="274" height="80" rx="5"/><text x="362" y="5400.5">树立"团队"精神，注重发挥集体力量，提高备<tspan x="362" dy="17">课的质量和效率，并及时在课后记下教学随笔</tspan><tspan x="362" dy="17">，进行教学反思，并大力提倡"集体备课"方式</tspan><tspan x="362" dy="17">。</tspan></text></g>
<g id="p5-3e" class="lp bx"><rect x="563" y="5490" width="66" height="29" rx="5"/><text x="570" y="5509.5">授课要求</text></g>
<g id="p5-3f" class="lp bx"><rect x="355" y="5548" width="274" height="46" rx="5"/><text x="362" y="5567.5">(1)新课程理念下的新授课应重视新知识的引<tspan x="362" dy="17">入。</tspan></text></g>
<g id="p5-3g" class="lp bx"><rect x="355" y="5622" width="274" height="46" rx="5"/><text x="362" y="5641.5">(2)新课程理念下的新授课应树立化学课堂教<tspan x="362" dy="17">学是化学活动的教学的观念。</tspan></text></g>
<g id="p5-3h" class="lp bx"><rect x="355" y="5696" width="274" height="46" rx="5"/><text x="362" y="5715.5">(3)新课程理念下的新授课应鼓励学生自主探<tspan x="362" dy="17">索与合作交流。</tspan></text></g>
<g id="p5-3i" class="lp bx"><rect x="355" y="5771" width="274" height="46" rx="5"/><text x="362" y="5790.5">(4)新课程理念下的新授课应重视培养学生应<tspan x="362" dy="17">用化学的意识和能力。</tspan></text></g>
<g id="p5-3j" class="lp bx"><rect x="355" y="5874" width="274" height="46" rx="5"/><text x="362" y="5893.5">(5)新课程理念下的新授课应重视培养学生动<tspan x="362" dy="17">手能力和实践创造精神。</tspan></text></g>
<g id="p5-3j1" class="lp bx"><rect x="225" y="5845" width="105" height="29" rx="5"/><text x="232" y="5864.5">作业布置与批改</text></g>
<g id="p5-3j2" class="lp bx"><rect x="56" y="5903" width="274" height="63" rx="5"/><text x="63" y="5922.5">作业是使学生掌握所学知识、培养各种能力的<tspan x="63" dy="17">重要手段，也是记录学生成长和评价反馈的重</tspan><tspan x="63" dy="17">要手段。应注意以下几点：</tspan></text></g>
<g id="p5-3k" class="lp bx"><rect x="355" y="6091" width="274" height="46" rx="5"/><text x="362" y="6110.5">(1)适量性(2)层次性(3)针对性(4)实践性(5)探<tspan x="362" dy="17">索性</tspan></text></g>
<g id="p5-3k1" class="lp bx"><rect x="56" y="5995" width="274" height="80" rx="5"/><text x="63" y="6014.5">课外辅导是教师完成教学任务的重要的辅助手<tspan x="63" dy="17">段之一。形式可以有一般辅导、个别辅导、学</tspan><tspan x="63" dy="17">生互相辅导。各班成立课外活动小组、兴趣小</tspan><tspan x="63" dy="17">组、竞赛辅导小组等。</tspan></text></g>
<g id="p5-3k2" class="lp bx"><rect x="264" y="6102" width="66" height="29" rx="5"/><text x="271" y="6121.5">测验评价</text></g>
<g id="p5-3k3" class="lp bx"><rect x="56" y="6160" width="274" height="63" rx="5"/><text x="63" y="6179.5">定期的测验检查是检测教学效果、激励学生学<tspan x="63" dy="17">习的一个有效方法。各专题及时过关考试，认</tspan><tspan x="63" dy="17">真对待。</tspan></text></g>

<!-- RELATED -->
<g id="related"><rect x="1467" y="5201" width="320" height="62" rx="31" fill="#1d7fc3"/><text x="1496" y="5227" class="nt" fill="#ffffff">高中化学教研组教学计划相关文章<tspan x="1496" dy="23">：</tspan></text></g>
<g id="r1" class="lb bx"><rect x="1813" y="4957" width="202" height="30" rx="5"/><text x="1821" y="4977.5">★ 高中化学备课组教学计划2021</text></g>
<g id="r2" class="lb bx"><rect x="1813" y="5015" width="202" height="30" rx="5"/><text x="1821" y="5035.5">★ 2021高中化学备课组教学计划</text></g>
<g id="r3" class="lb bx"><rect x="1813" y="5073" width="198" height="30" rx="5"/><text x="1821" y="5093.5">★ 关于高中化学学科组教学计划</text></g>
<g id="r4" class="lb bx"><rect x="1813" y="5131" width="218" height="30" rx="5"/><text x="1821" y="5151.5">★ 关于高三化学教研组教学计划5篇</text></g>
<g id="r5" class="lb bx"><rect x="1813" y="5189" width="205" height="30" rx="5"/><text x="1821" y="5209.5">★ 关于高中化学学科教学计划5篇</text></g>
<g id="r6" class="lb bx"><rect x="1813" y="5247" width="176" height="30" rx="5"/><text x="1821" y="5267.5">★ 化学备课组教学计划2021</text></g>
<g id="r7" class="lb bx"><rect x="1813" y="5305" width="198" height="30" rx="5"/><text x="1821" y="5325.5">★ 关于人教版高中化学教学计划</text></g>
<g id="r8" class="lb bx"><rect x="1813" y="5363" width="189" height="30" rx="5"/><text x="1821" y="5383.5">★ 高中化学教学计划模板2021</text></g>
<g id="r9" class="lb bx"><rect x="1813" y="5421" width="179" height="30" rx="5"/><text x="1821" y="5441.5">★ 教学计划高中化学学情5篇</text></g>
<g id="r10" class="lb bx"><rect x="1813" y="5479" width="190" height="30" rx="5"/><text x="1821" y="5499.5">★ 高中化学教学计划5篇</text></g>
</g>
</svg>
